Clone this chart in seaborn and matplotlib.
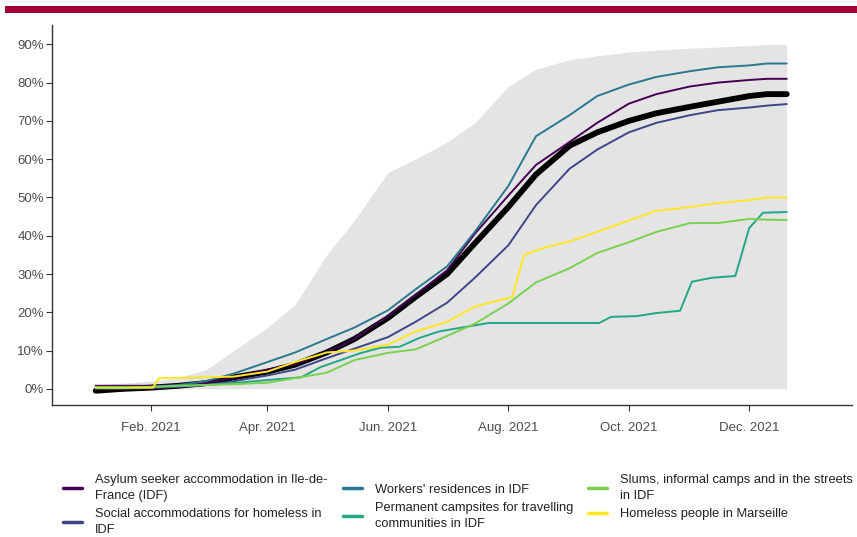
""" Vaccination coverage over 2021 by population group """
import pandas as pd
import seaborn as sns
import matplotlib.pyplot as plt
from matplotlib.patches import Rectangle
from matplotlib.ticker import FuncFormatter

# Common dates for most of the series
dates = [
    "2021-01-04", "2021-01-18", "2021-02-01", "2021-02-15", "2021-03-01",
    "2021-03-15", "2021-04-01", "2021-04-15", "2021-05-01", "2021-05-15",
    "2021-06-01", "2021-06-15", "2021-07-01", "2021-07-15", "2021-08-01",
    "2021-08-15", "2021-09-01", "2021-09-15", "2021-10-01", "2021-10-15",
    "2021-11-01", "2021-11-15", "2021-12-01", "2021-12-10", "2021-12-20",
]

overall = [-0.5, 0, 0.3, 0.8, 1.5, 3, 4.5, 6.3, 9.5, 13, 18.5, 24, 30, 38,
           47.5, 56, 63.5, 67, 70, 72, 73.7, 75, 76.5, 77, 77]
band_low = [0] * len(dates)
band_high = [1, 1.5, 2, 3, 5, 10, 16, 22, 35, 44, 56.5, 60, 64.5, 69.5,
             79, 83.5, 86, 87, 88, 88.5, 89, 89.3, 89.7, 90, 90]

asylum = [0.8, 0.8, 0.8, 1, 1.5, 3, 5, 6.5, 9.5, 13, 19, 24.5, 31, 40.5,
          50.5, 58.5, 64.5, 69.5, 74.5, 77, 79, 80, 80.7, 81, 81]
social = [0, 0, 0.2, 0.5, 1, 2, 3.5, 5, 8, 10.5, 13.5, 17.5, 22.5, 29,
          37.5, 48, 57.5, 62.5, 67, 69.5, 71.5, 72.8, 73.5, 74, 74.4]
workers = [0.5, 0.5, 0.5, 1, 2, 4, 7, 9.5, 13, 16, 20.5, 26, 32, 41,
           53, 66, 71.5, 76.5, 79.5, 81.5, 83, 84, 84.5, 85, 85]
slums = [0.3, 0.3, 0.5, 0.8, 1, 1.2, 1.6, 2.8, 4.2, 7.5, 9.4, 10.3, 13.8, 17,
         22.3, 27.8, 31.5, 35.5, 38.3, 41, 43.3, 43.3, 44.4, 44.2, 44.1]

# These two move in steps, so they get their own dates
campsite_dates = [
    "2021-01-04", "2021-02-01", "2021-03-01", "2021-03-15", "2021-04-01",
    "2021-04-18", "2021-04-28", "2021-05-08", "2021-05-18", "2021-05-28",
    "2021-06-07", "2021-06-17", "2021-06-27", "2021-07-22", "2021-09-16",
    "2021-09-22", "2021-10-05", "2021-10-15", "2021-10-27", "2021-11-02",
    "2021-11-12", "2021-11-24", "2021-12-01", "2021-12-08", "2021-12-20",
]
campsites = [0.5, 0.5, 1, 1.5, 2.3, 3, 5.7, 7.5, 9.3, 10.7, 11, 13.3, 15,
             17.2, 17.2, 18.8, 19, 19.8, 20.4, 28, 29, 29.5, 42, 46, 46.2]

marseille_dates = [
    "2021-01-04", "2021-02-02", "2021-02-05", "2021-03-01", "2021-03-15",
    "2021-04-01", "2021-04-15", "2021-05-01", "2021-05-15", "2021-06-01",
    "2021-06-15", "2021-07-01", "2021-07-15", "2021-08-03", "2021-08-09",
    "2021-08-20", "2021-09-01", "2021-09-15", "2021-10-01", "2021-10-15",
    "2021-11-01", "2021-11-15", "2021-12-01", "2021-12-10", "2021-12-20",
]
marseille = [0.3, 0.3, 2.8, 3, 3.2, 4.5, 7, 9.5, 10, 11.5, 15, 17.5, 21.5,
             24, 35, 37, 38.5, 41, 44, 46.5, 47.5, 48.5, 49.3, 50, 50]

groups = [
    "Asylum seeker accommodation in Ile-de-\nFrance (IDF)",
    "Social accommodations for homeless in\nIDF",
    "Workers' residences in IDF",
    "Permanent campsites for travelling\ncommunities in IDF",
    "Slums, informal camps and in the streets\nin IDF",
    "Homeless people in Marseille",
]
colors = ["#440154", "#414487", "#2A788E", "#22A884", "#7AD151", "#FDE725"]

x_ticks = ["2021-02-01", "2021-04-01", "2021-06-01", "2021-08-01",
           "2021-10-01", "2021-12-01"]
x_labels = ["Feb. 2021", "Apr. 2021", "Jun. 2021", "Aug. 2021",
            "Oct. 2021", "Dec. 2021"]

# Long format for seaborn
parts = []
for g, d, v in zip(groups,
                   [dates, dates, dates, campsite_dates, dates, marseille_dates],
                   [asylum, social, workers, campsites, slums, marseille]):
    parts.append(pd.DataFrame({"date": pd.to_datetime(d), "value": v, "group": g}))
df = pd.concat(parts, ignore_index=True)

mean_df = pd.DataFrame({"date": pd.to_datetime(dates), "value": overall,
                        "low": band_low, "high": band_high})

sns.set_theme(style="white")
plt.rcParams["font.family"] = ["Liberation Sans", "DejaVu Sans"]

fig = plt.figure(figsize=(8.57, 5.37), dpi=100)
ax = fig.add_axes([0.061, 0.246, 0.933, 0.707])

# Grey range of all groups
ax.fill_between(mean_df["date"], mean_df["low"], mean_df["high"],
                color="#e4e4e4", linewidth=0, zorder=0)

sns.lineplot(data=df, x="date", y="value", hue="group", hue_order=groups,
             palette=colors, linewidth=1.4, ax=ax, zorder=3)
sns.lineplot(data=mean_df, x="date", y="value", color="black", linewidth=4.2,
             ax=ax, zorder=2)

ax.set_xlim(pd.Timestamp("2020-12-13"), pd.Timestamp("2022-01-22"))
ax.set_ylim(-4.2, 95)
ax.set_xticks(pd.to_datetime(x_ticks))
ax.set_xticklabels(x_labels)
ax.set_yticks(range(0, 100, 10))
ax.yaxis.set_major_formatter(FuncFormatter(lambda v, p: f"{v:.0f}%"))
ax.set_xlabel("")
ax.set_ylabel("")
ax.tick_params(axis="both", which="major", length=4, width=0.8, color="#333333",
               labelsize=9.5, labelcolor="#4d4d4d", bottom=True, left=True)
ax.tick_params(axis="x", pad=8)
ax.tick_params(axis="y", pad=2)
for side in ["top", "right"]:
    ax.spines[side].set_visible(False)
for side in ["left", "bottom"]:
    ax.spines[side].set_color("#333333")
    ax.spines[side].set_linewidth(1.0)

# Legend below the plot, three columns
handles, labels = ax.get_legend_handles_labels()
ax.get_legend().remove()
leg = fig.legend(handles, labels, loc="upper left", bbox_to_anchor=(0.074, 0.117),
                 ncol=3, frameon=False, fontsize=9.3, handlelength=1.45,
                 handletextpad=1.0, columnspacing=1.2, labelspacing=0.45,
                 borderpad=0, borderaxespad=0)
for h in leg.legend_handles:
    h.set_linewidth(2.5)
for t in leg.get_texts():
    t.set_color("#222222")
    t.set_linespacing(1.45)

# Red band on top
fig.add_artist(Rectangle((0.006, 0.976), 0.994, 0.012, transform=fig.transFigure,
                         color="#a6003a", linewidth=0))

fig.savefig("out.png", dpi=100)
